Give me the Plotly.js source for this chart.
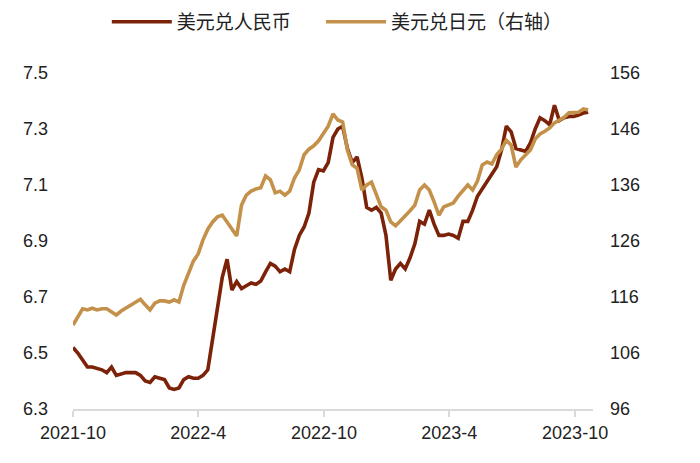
<!DOCTYPE html>
<html>
<head>
<meta charset="utf-8">
<script src="https://cdn.plot.ly/plotly-3.0.1.min.js"></script>
<style>html,body{margin:0;padding:0;background:#fff;}#chart{width:700px;height:463px;}</style>
</head>
<body>
<div id="chart"></div>
<script>
// Weekly observation dates (Fridays)
const dates = [
"2021-10-01","2021-10-08","2021-10-15","2021-10-22","2021-10-29","2021-11-05","2021-11-12","2021-11-19","2021-11-26",
"2021-12-03","2021-12-10","2021-12-17","2021-12-24","2021-12-31",
"2022-01-07","2022-01-14","2022-01-21","2022-01-28","2022-02-04","2022-02-11","2022-02-18","2022-02-25",
"2022-03-04","2022-03-11","2022-03-18","2022-03-25","2022-04-01","2022-04-08","2022-04-15","2022-04-22","2022-04-29",
"2022-05-06","2022-05-13","2022-05-20","2022-05-27","2022-06-03","2022-06-10","2022-06-17","2022-06-24",
"2022-07-01","2022-07-08","2022-07-15","2022-07-22","2022-07-29","2022-08-05","2022-08-12","2022-08-19","2022-08-26",
"2022-09-02","2022-09-09","2022-09-16","2022-09-23","2022-09-30","2022-10-07","2022-10-14","2022-10-21","2022-10-28",
"2022-11-04","2022-11-11","2022-11-18","2022-11-25","2022-12-02","2022-12-09","2022-12-16","2022-12-23","2022-12-30",
"2023-01-06","2023-01-13","2023-01-20","2023-01-27","2023-02-03","2023-02-10","2023-02-17","2023-02-24",
"2023-03-03","2023-03-10","2023-03-17","2023-03-24","2023-03-31","2023-04-07","2023-04-14","2023-04-21","2023-04-28",
"2023-05-05","2023-05-12","2023-05-19","2023-05-26","2023-06-02","2023-06-09","2023-06-16","2023-06-23","2023-06-30",
"2023-07-07","2023-07-14","2023-07-21","2023-07-28","2023-08-04","2023-08-11","2023-08-18","2023-08-25",
"2023-09-01","2023-09-08","2023-09-15","2023-09-22","2023-09-29","2023-10-06","2023-10-13","2023-10-20"
];

// USD/CNY (left axis)
const usdCny = [
6.52,6.50,6.475,6.45,6.45,6.445,6.44,6.43,6.45,6.42,
6.425,6.43,6.43,6.43,6.42,6.40,6.395,6.415,6.41,6.405,
6.375,6.37,6.375,6.405,6.415,6.41,6.41,6.42,6.44,6.55,
6.66,6.77,6.835,6.725,6.755,6.73,6.74,6.75,6.745,6.757,
6.79,6.82,6.81,6.79,6.80,6.79,6.87,6.92,6.95,7.00,
7.11,7.155,7.15,7.18,7.27,7.30,7.31,7.23,7.18,7.20,
7.125,7.02,7.01,7.02,7.00,6.92,6.76,6.80,6.82,6.80,
6.84,6.89,6.97,6.96,7.01,6.96,6.92,6.92,6.925,6.92,
6.91,6.97,6.97,7.01,7.06,7.085,7.11,7.135,7.165,7.225,
7.31,7.29,7.23,7.225,7.22,7.25,7.30,7.34,7.33,7.315,
7.385,7.33,7.34,7.345,7.345,7.35,7.357,7.36
];

// USD/JPY (right axis)
const usdJpy = [
111.0,112.6,113.9,113.7,114.0,113.7,113.9,113.9,113.3,112.8,
113.5,114.0,114.6,115.1,115.6,114.6,113.7,114.9,115.3,115.3,
115.1,115.5,115.1,118.1,120.3,122.4,123.7,126.2,128.1,129.4,
130.3,130.6,129.4,128.1,126.9,132.4,134.2,134.9,135.3,135.5,
137.6,136.9,134.6,134.9,134.2,134.9,137.25,138.7,141.4,142.4,
143.0,143.9,145.1,146.5,148.7,147.6,147.25,142.2,139.6,139.0,
135.1,136.0,136.5,134.4,132.1,131.5,129.4,128.7,129.6,130.3,
131.4,132.4,135.1,136.0,135.1,133.0,130.6,132.1,132.4,132.8,
134.0,134.9,136.0,135.1,136.7,139.6,140.1,139.75,141.4,142.4,
144.0,143.1,139.2,140.5,141.4,142.25,144.2,145.1,145.6,146.2,
147.1,147.6,148.1,148.9,149.0,149.0,149.6,149.4
];

const tickDates = ["2021-10-01","2022-04-01","2022-10-01","2023-04-01","2023-10-01"];
const tickLabels = ["2021-10","2022-4","2022-10","2023-4","2023-10"];
const leftTicks = [6.3,6.5,6.7,6.9,7.1,7.3,7.5];
const rightTicks = [96,106,116,126,136,146,156];

const seriesNames = ["美元兑人民币","美元兑日元（右轴）"];

const traces = [
  {x: dates, y: usdCny, name: seriesNames[0], type: "scatter", mode: "lines",
   line: {color: "#7b2208", width: 3.6}, yaxis: "y", legend: "legend"},
  {x: dates, y: usdJpy, name: seriesNames[1], type: "scatter", mode: "lines",
   line: {color: "#c4914a", width: 3.6}, yaxis: "y2", legend: "legend2"}
];

const tickFont = {family: "Liberation Sans, Arial, sans-serif", size: 18, color: "#222"};
const legendFont = {family: "Noto Sans CJK SC, sans-serif", size: 19, color: "#222"};

const layout = {
  width: 700, height: 463,
  margin: {l: 73, r: 107, t: 73, b: 54, autoexpand: false},
  paper_bgcolor: "#fff", plot_bgcolor: "#fff",
  showlegend: true,
  legend: {orientation: "h", x: 0.065, xanchor: "left", y: 1.152, yanchor: "middle",
    font: legendFont, itemwidth: 60},
  legend2: {orientation: "h", x: 0.477, xanchor: "left", y: 1.152, yanchor: "middle",
    font: legendFont, itemwidth: 60},
  xaxis: {type: "date", range: ["2021-10-01","2023-10-27"],
    tickmode: "array", tickvals: tickDates, ticktext: tickLabels,
    showgrid: false, zeroline: false, showline: true, linecolor: "#d9d9d9", linewidth: 2,
    ticks: "outside", ticklen: 6, tickcolor: "#d9d9d9", tickwidth: 2,
    tickfont: tickFont, fixedrange: true},
  yaxis: {range: [6.3, 7.5], tickmode: "array", tickvals: leftTicks,
    ticktext: leftTicks.map(v => v.toFixed(1)),
    showgrid: false, zeroline: false, showline: false, ticks: "",
    tickfont: tickFont, ticklabelstandoff: 24},
  yaxis2: {range: [96, 156], overlaying: "y", side: "right", tickmode: "array",
    tickvals: rightTicks, showgrid: false, zeroline: false, showline: false, ticks: "",
    tickfont: tickFont, ticklabelstandoff: 16}
};

Plotly.newPlot("chart", traces, layout, {displayModeBar: false, staticPlot: true});
</script>
</body>
</html>
